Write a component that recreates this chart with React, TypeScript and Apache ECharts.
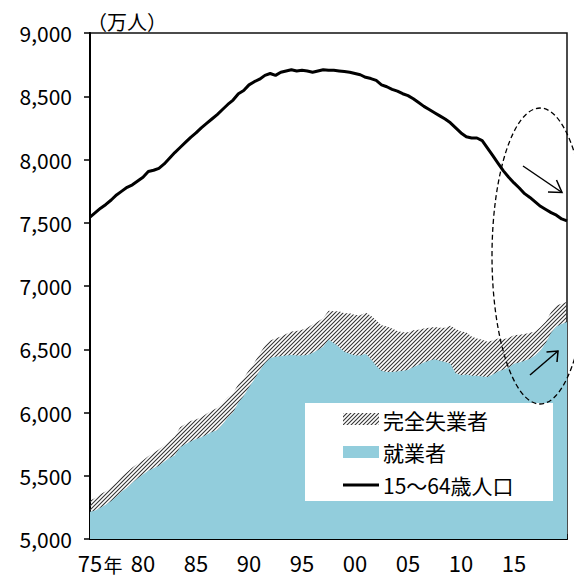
import React, { useEffect, useRef } from 'react';
import * as echarts from 'echarts';

// Half-yearly readings (1975.0, 1975.5, ..., 2020.0), 万人
const startYear = 1975;
const stepYears = 0.5;

const population = [
  7545, 7580, 7615, 7645, 7680, 7720, 7750, 7780, 7800, 7830,
  7860, 7905, 7915, 7930, 7965, 8010, 8055, 8095, 8135, 8175,
  8210, 8250, 8285, 8320, 8355, 8395, 8435, 8470, 8520, 8545,
  8590, 8615, 8635, 8665, 8680, 8665, 8690, 8700, 8710, 8700,
  8705, 8700, 8690, 8700, 8710, 8705, 8705, 8700, 8695, 8690,
  8680, 8670, 8650, 8640, 8625, 8590, 8575, 8555, 8540, 8520,
  8505, 8480, 8450, 8420, 8395, 8370, 8345, 8320, 8290, 8250,
  8210, 8180, 8170, 8170, 8150, 8090, 8030, 7970, 7910, 7860,
  7815, 7775, 7730, 7700, 7665, 7630, 7605, 7580, 7560, 7530,
  7515,
];

const employed = [
  5215, 5225, 5250, 5270, 5300, 5335, 5375, 5405, 5445, 5480,
  5510, 5540, 5560, 5580, 5610, 5640, 5660, 5725, 5750, 5770,
  5790, 5805, 5825, 5845, 5860, 5905, 5960, 6000, 6080, 6130,
  6200, 6260, 6330, 6390, 6430, 6440, 6445, 6450, 6455, 6450,
  6450, 6455, 6470, 6495, 6520, 6575, 6550, 6515, 6480, 6465,
  6450, 6450, 6465, 6420, 6370, 6330, 6320, 6320, 6325, 6330,
  6335, 6360, 6375, 6395, 6410, 6420, 6410, 6400, 6385, 6310,
  6295, 6300, 6290, 6290, 6285, 6280, 6300, 6325, 6340, 6355,
  6385, 6395, 6410, 6425, 6450, 6490, 6550, 6630, 6680, 6700,
  6715,
];

const unemployed = [
  90, 100, 105, 108, 110, 112, 120, 124, 120, 115,
  112, 115, 122, 128, 132, 138, 150, 158, 160, 162,
  155, 158, 165, 170, 175, 170, 160, 152, 145, 140,
  135, 133, 135, 138, 140, 145, 155, 170, 185, 195,
  205, 215, 225, 225, 225, 230, 250, 285, 305, 320,
  320, 318, 325, 345, 360, 360, 360, 345, 320, 305,
  300, 290, 280, 270, 260, 255, 260, 270, 300, 350,
  345, 335, 310, 295, 290, 280, 270, 260, 240, 235,
  225, 220, 210, 205, 190, 185, 170, 165, 165, 160,
  160,
];

const seriesNames = ['完全失業者', '就業者', '15～64歳人口'];
const unitLabel = '（万人）';
const yearSuffix = '年';

const FONT = "'Noto Sans CJK JP', 'Noto Sans', sans-serif";
const BLUE = '#92CDDC';

const hatchSvg =
  "<svg xmlns='http://www.w3.org/2000/svg' width='4' height='4'>" +
  "<path d='M-1,1 L1,-1 M0,4 L4,0 M3,5 L5,3' stroke='#333' stroke-width='1.1'/></svg>";
const hatchUrl = 'data:image/svg+xml;charset=utf-8,' + encodeURIComponent(hatchSvg);

export default function App() {
  const ref = useRef<HTMLDivElement>(null);

  useEffect(() => {
    if (!ref.current) return;
    const chart = echarts.init(ref.current, null, { renderer: 'svg' });

    const xs = population.map((_, i) => startYear + i * stepYears);
    const totalData = xs.map((x, i) => [x, employed[i] + unemployed[i]]);
    const employedData = xs.map((x, i) => [x, employed[i]]);
    const popData = xs.map((x, i) => [x, population[i]]);

    const hatch: any = { image: hatchUrl, repeat: 'repeat', imageWidth: 4, imageHeight: 4 };

    const option: any = {
      animation: false,
      grid: {
        left: 90,
        right: 7,
        top: 33,
        bottom: 40,
        show: true,
        borderColor: '#111',
        borderWidth: 1.5,
        backgroundColor: 'transparent',
      },
      xAxis: {
        type: 'value',
        min: 1975,
        max: 2020,
        interval: 1,
        axisLine: { show: true, lineStyle: { color: '#000', width: 2 } },
        axisTick: { show: true, inside: true, length: 5, lineStyle: { color: '#000', width: 1.5 } },
        splitLine: { show: false },
        axisLabel: {
          color: '#000',
          fontSize: 22,
          fontFamily: FONT,
          margin: 12,
          formatter: (v: number) =>
            v % 5 === 0 && v < 2020 ? String(v % 100).padStart(2, '0') : '',
        },
      },
      yAxis: {
        type: 'value',
        min: 5000,
        max: 9000,
        interval: 500,
        axisLine: { show: true, lineStyle: { color: '#000', width: 2 } },
        axisTick: { show: true, length: 6, lineStyle: { color: '#000', width: 1.5 } },
        splitLine: { show: false },
        axisLabel: {
          color: '#000',
          fontSize: 21,
          fontFamily: FONT,
          margin: 18,
          formatter: (v: number) => v.toLocaleString('en-US'),
        },
      },
      series: [
        {
          name: seriesNames[0],
          type: 'line',
          data: totalData,
          symbol: 'none',
          lineStyle: { width: 0 },
          areaStyle: { color: hatch, opacity: 1 },
          z: 2,
        },
        {
          name: seriesNames[1],
          type: 'line',
          data: employedData,
          symbol: 'none',
          lineStyle: { width: 0 },
          areaStyle: { color: BLUE, opacity: 1 },
          z: 3,
        },
        {
          name: seriesNames[2],
          type: 'line',
          data: popData,
          symbol: 'none',
          lineStyle: { color: '#000', width: 3 },
          z: 4,
        },
      ],
      graphic: [
        {
          type: 'text', z: 100, x: 127, y: 21,
          style: { text: unitLabel, fontSize: 20, fontFamily: FONT, fill: '#000', textAlign: 'center', textVerticalAlign: 'middle' },
        },
        {
          type: 'text', z: 100, x: 113, y: 564,
          style: { text: yearSuffix, fontSize: 19, fontFamily: FONT, fill: '#000', textAlign: 'center', textVerticalAlign: 'middle' },
        },
        // legend box
        { type: 'rect', z: 100, shape: { x: 305, y: 403, width: 248, height: 98 }, style: { fill: '#fff' } },
        { type: 'rect', z: 101, shape: { x: 343, y: 413, width: 36, height: 12 }, style: { fill: hatch } },
        { type: 'rect', z: 101, shape: { x: 343, y: 446, width: 36, height: 12 }, style: { fill: BLUE } },
        { type: 'line', z: 101, shape: { x1: 343, y1: 485, x2: 379, y2: 485 }, style: { stroke: '#000', lineWidth: 3 } },
        {
          type: 'text', z: 101, x: 383, y: 420,
          style: { text: seriesNames[0], fontSize: 21, fontFamily: FONT, fill: '#000', textVerticalAlign: 'middle' },
        },
        {
          type: 'text', z: 101, x: 383, y: 452,
          style: { text: seriesNames[1], fontSize: 21, fontFamily: FONT, fill: '#000', textVerticalAlign: 'middle' },
        },
        {
          type: 'text', z: 101, x: 383, y: 485,
          style: { text: seriesNames[2], fontSize: 21, fontFamily: FONT, fill: '#000', textVerticalAlign: 'middle' },
        },
        // dashed ellipse
        {
          type: 'ellipse', z: 102,
          shape: { cx: 540, cy: 256, rx: 48, ry: 148 },
          style: { fill: 'none', stroke: '#000', lineWidth: 1.3, lineDash: [5, 3] },
        },
        // arrows
        { type: 'line', z: 102, shape: { x1: 523, y1: 166, x2: 562, y2: 192.5 }, style: { stroke: '#000', lineWidth: 1.5 } },
        { type: 'polyline', z: 102, shape: { points: [[548, 192], [562, 192.5], [556.5, 180]] }, style: { stroke: '#000', lineWidth: 1.5, fill: 'none' } },
        { type: 'line', z: 102, shape: { x1: 530, y1: 375, x2: 558, y2: 351 }, style: { stroke: '#000', lineWidth: 1.5 } },
        { type: 'polyline', z: 102, shape: { points: [[546.5, 352], [558, 351], [557, 362]] }, style: { stroke: '#000', lineWidth: 1.5, fill: 'none' } },
      ],
    };

    chart.setOption(option);
    return () => chart.dispose();
  }, []);

  return (
    <div
      ref={ref}
      style={{ position: 'fixed', left: 0, top: 0, width: 574, height: 579, background: '#fff' }}
    />
  );
}
